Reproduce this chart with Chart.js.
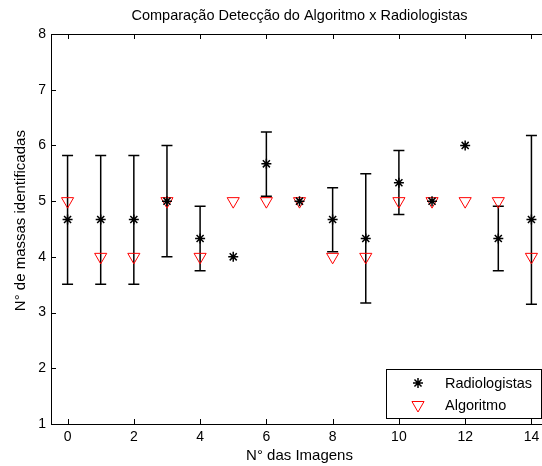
<!DOCTYPE html>
<html>
<head>
<meta charset="utf-8">
<script src="https://cdn.jsdelivr.net/npm/chart.js@4/dist/chart.umd.min.js"></script>
<style>
html,body{margin:0;padding:0;background:#fff;overflow:hidden;width:542px;height:466px;}
canvas{display:block;}
</style>
</head>
<body>
<canvas id="c" width="560" height="466"></canvas>
<script>
const images = [0,1,2,3,4,5,6,7,8,9,10,11,12,13,14];
const radiologistas = [4.67,4.67,4.67,5,4.33,4,5.67,5,4.67,4.33,5.33,5,6,4.33,4.67];
const errHigh = [5.82,5.82,5.82,6,4.91,null,6.24,null,5.24,5.49,5.91,null,null,4.91,6.18];
const errLow  = [3.51,3.51,3.51,4,3.75,null,5.09,null,4.09,3.17,4.76,null,null,3.75,3.15];
const algoritmo = [5,4,4,5,4,5,5,5,4,4,5,5,5,5,4];
const xTicks = [0,2,4,6,8,10,12,14];
const yTicks = [1,2,3,4,5,6,7,8];
const yAxisTitle = 'N° de massas identificadas';

const FONT = 'Liberation Sans, Arial, sans-serif';

const errorBars = {
  id: 'errorBars',
  beforeDatasetsDraw(chart) {
    const {ctx, scales: {x, y}} = chart;
    ctx.save();
    ctx.strokeStyle = '#000';
    ctx.lineWidth = 1.5;
    images.forEach((xv, i) => {
      if (errHigh[i] == null) return;
      const px = x.getPixelForValue(xv);
      const pt = y.getPixelForValue(errHigh[i]);
      const pb = y.getPixelForValue(errLow[i]);
      ctx.beginPath();
      ctx.moveTo(px, pt); ctx.lineTo(px, pb);
      ctx.moveTo(px - 5.5, pt); ctx.lineTo(px + 5.5, pt);
      ctx.moveTo(px - 5.5, pb); ctx.lineTo(px + 5.5, pb);
      ctx.stroke();
    });
    ctx.restore();
  }
};

const frame = {
  id: 'frame',
  afterDraw(chart) {
    const {ctx, chartArea: a, scales: {x, y}} = chart;
    ctx.save();
    ctx.strokeStyle = '#000';
    ctx.lineWidth = 1;
    ctx.beginPath();
    ctx.rect(a.left + 0.5, a.top + 0.5, a.right - a.left, a.bottom - a.top);
    const L = 5;
    xTicks.forEach(v => {
      const p = Math.round(x.getPixelForValue(v)) + 0.5;
      ctx.moveTo(p, a.bottom); ctx.lineTo(p, a.bottom - L);
      ctx.moveTo(p, a.top); ctx.lineTo(p, a.top + L);
    });
    yTicks.forEach(v => {
      const p = Math.round(y.getPixelForValue(v)) + 0.5;
      ctx.moveTo(a.left, p); ctx.lineTo(a.left + L, p);
      ctx.moveTo(a.right, p); ctx.lineTo(a.right - L, p);
    });
    ctx.stroke();

    // y axis title
    ctx.save();
    ctx.translate(21, y.getPixelForValue(4.65));
    ctx.rotate(-Math.PI / 2);
    ctx.font = '15px ' + FONT;
    ctx.fillStyle = '#000';
    ctx.textAlign = 'center';
    ctx.textBaseline = 'middle';
    ctx.fillText(yAxisTitle, 0, 0);
    ctx.restore();

    // legend box
    const bx = 386.5, by = 369.5, bw = 155, bh = 49;
    ctx.fillStyle = '#fff';
    ctx.fillRect(bx, by, bw, bh);
    ctx.strokeRect(bx, by, bw, bh);
    ctx.font = '14.5px ' + FONT;
    ctx.textBaseline = 'middle';
    ctx.textAlign = 'left';
    chart.data.datasets.forEach((ds, i) => {
      const cy = by + 13.5 + i * 22;
      ctx.save();
      ctx.strokeStyle = ds.borderColor;
      ctx.fillStyle = ds.backgroundColor;
      ctx.lineWidth = ds.borderWidth;
      Chart.helpers.drawPoint(ctx, {pointStyle: ds.pointStyle, rotation: ds.rotation || 0, radius: ds.pointRadius, borderWidth: ds.borderWidth}, 418, cy);
      ctx.restore();
      ctx.fillStyle = '#000';
      ctx.fillText(ds.label, 445, cy + 1);
    });
    ctx.restore();
  }
};

new Chart(document.getElementById('c'), {
  type: 'scatter',
  data: {
    datasets: [
      {
        label: 'Radiologistas',
        data: images.map((v, i) => ({x: v, y: radiologistas[i]})),
        pointStyle: 'star',
        pointRadius: 5,
        pointHoverRadius: 5,
        borderColor: '#000',
        backgroundColor: '#000',
        borderWidth: 1.5
      },
      {
        label: 'Algoritmo',
        data: images.map((v, i) => ({x: v, y: algoritmo[i]})),
        pointStyle: 'triangle',
        rotation: 180,
        pointRadius: 7,
        pointHoverRadius: 7,
        borderColor: '#ff0000',
        backgroundColor: 'rgba(0,0,0,0)',
        borderWidth: 1
      }
    ]
  },
  options: {
    responsive: false,
    animation: false,
    layout: {padding: {left: 8, right: 12, top: 0, bottom: 0}},
    plugins: {
      legend: {display: false},
      tooltip: {enabled: false},
      title: {
        display: true,
        text: 'Comparação Detecção do Algoritmo x Radiologistas',
        fullSize: false,
        color: '#000',
        font: {family: FONT, size: 14.5, weight: 'normal'},
        padding: {top: 7, bottom: 9.6}
      }
    },
    scales: {
      x: {
        type: 'linear',
        min: -0.5, max: 14.5,
        afterBuildTicks: s => { s.ticks = xTicks.map(v => ({value: v})); },
        afterFit: s => { s.height = 42; },
        grid: {display: false, drawTicks: false},
        border: {display: false},
        ticks: {color: '#000', padding: 5, font: {family: FONT, size: 14}},
        title: {display: true, text: 'N° das Imagens', color: '#000', font: {family: FONT, size: 15}, padding: {top: 0, bottom: 1}}
      },
      y: {
        type: 'linear',
        min: 1, max: 8,
        afterBuildTicks: s => { s.ticks = yTicks.map(v => ({value: v})); },
        afterFit: s => { s.width = 43; },
        grid: {display: false, drawTicks: false},
        border: {display: false},
        ticks: {color: '#000', padding: 5, font: {family: FONT, size: 14}},
        title: {display: false}
      }
    }
  },
  plugins: [errorBars, frame]
});
</script>
</body>
</html>
